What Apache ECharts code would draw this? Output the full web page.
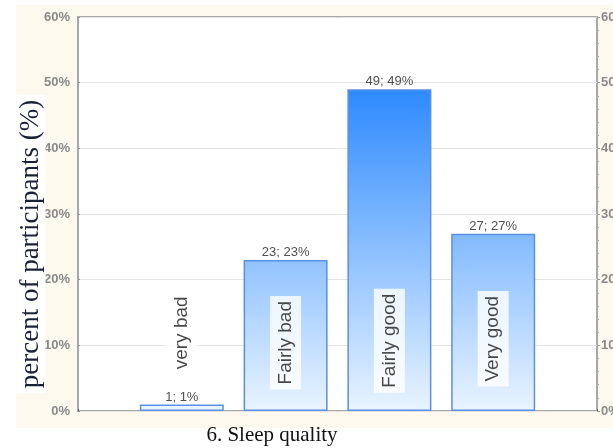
<!DOCTYPE html>
<html>
<head>
<meta charset="utf-8">
<script src="https://cdn.jsdelivr.net/npm/echarts@6/dist/echarts.min.js"></script>
<style>html,body{margin:0;padding:0;background:#fff}#c{width:613px;height:448px}</style>
</head>
<body>
<div id="c"></div>
<script>
// Data
const categories = ['', 'very bad', 'Fairly bad', 'Fairly good', 'Very good', ''];
const counts = [null, 1, 23, 49, 27, null];
const percents = [null, 1, 23, 49, 27, null];
const yTicks = [0, 10, 20, 30, 40, 50, 60];
const xTitle = '6. Sleep quality';
const yTitle = 'percent of participants (%)';

const chart = echarts.init(document.getElementById('c'), null, {renderer: 'canvas'});
const gridTop = 17, gridBottom = 37;
const labelCenters = [null, 11.9, 10.4, 10.7, 11.0, null];

const option = {
  backgroundColor: '#ffffff',
  animation: false,
  graphic: [{
    type: 'rect', z: -10, silent: true,
    shape: {x: 16, y: 5, width: 597, height: 423},
    style: {fill: '#fdf9ee'}
  }, {
    type: 'text', z: 10, silent: true,
    x: 31, y: 244, rotation: Math.PI / 2,
    style: {
      text: yTitle, font: '27px "Liberation Serif"', fill: '#1a2035',
      align: 'center', verticalAlign: 'middle',
      backgroundColor: '#ffffff', padding: [1, 5, 1, 5]
    }
  }, {
    type: 'text', z: 10, silent: true,
    x: 272, y: 435,
    style: {
      text: xTitle, font: '21px "Liberation Serif"', fill: '#111111',
      align: 'center', verticalAlign: 'middle'
    }
  }],
  grid: {
    left: 78, right: 16, top: gridTop, bottom: gridBottom,
    containLabel: false, outerBoundsMode: 'none',
    show: true, backgroundColor: '#ffffff', borderColor: '#a8a8a8', borderWidth: 2
  },
  xAxis: {
    type: 'category', data: categories, boundaryGap: false,
    axisLine: {show: false},
    axisTick: {show: true, inside: true, length: 2, lineStyle: {color: '#666'}},
    axisLabel: {show: false},
    splitLine: {show: false}
  },
  yAxis: [{
    type: 'value', min: 0, max: yTicks[yTicks.length - 1], interval: 10,
    axisLine: {show: false},
    axisTick: {show: true, inside: true, length: 2, lineStyle: {color: '#999'}},
    axisLabel: {formatter: v => v + '%', color: '#8a8a8a', fontSize: 13, fontWeight: 'bold', fontFamily: 'Arial, Liberation Sans', margin: 8},
    splitLine: {show: true, lineStyle: {color: '#e4e4e4', width: 1}}
  }, {
    type: 'value', min: 0, max: yTicks[yTicks.length - 1], interval: 10, position: 'right',
    axisLine: {show: false},
    axisTick: {show: true, length: 3, lineStyle: {color: '#999'}},
    minorTick: {show: true, splitNumber: 5, length: 2, lineStyle: {color: '#aaa'}},
    axisLabel: {formatter: v => v + '%', color: '#8a8a8a', fontSize: 13, fontWeight: 'bold', fontFamily: 'Arial, Liberation Sans', margin: 4},
    splitLine: {show: false}
  }],
  series: [{
    type: 'bar', barWidth: 84, data: percents,
    itemStyle: {
      color: new echarts.graphic.LinearGradient(0, 448 - gridBottom, 0, 83, [
        {offset: 0, color: '#e9f4ff'}, {offset: 1, color: '#2a88ff'}
      ], true),
      borderColor: '#5a8fe6', borderWidth: 1.5
    },
    label: {
      show: true, position: 'top', distance: 1,
      formatter: p => counts[p.dataIndex] + '; ' + percents[p.dataIndex] + '%',
      color: '#505050', fontSize: 13, fontFamily: 'Arial, Liberation Sans'
    }
  }, {
    type: 'scatter', symbolSize: 0, silent: true,
    data: labelCenters,
    label: {
      show: true, position: 'inside', rotate: 90,
      formatter: p => categories[p.dataIndex],
      color: '#1a1a1a', fontSize: 19, fontFamily: 'Arial, Liberation Sans',
      backgroundColor: '#ffffff', padding: [6, 5, 6, 5]
    },
    z: 5
  }]
};
chart.setOption(option);
</script>
</body>
</html>
